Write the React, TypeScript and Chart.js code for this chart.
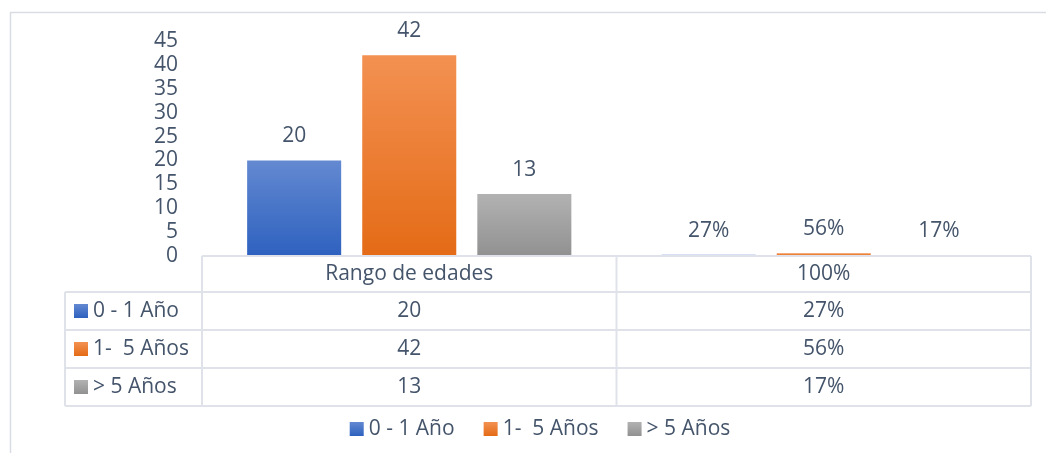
import React, { useEffect, useRef } from "react";
import { Chart, registerables } from "chart.js";

Chart.register(...registerables);

const categories = ["Rango de edades", "100%"];
const seriesNames = ["0 - 1 Año", "1-  5 Años", "> 5 Años"];
const seriesValues = [
  [20, 0.27],
  [42, 0.56],
  [13, 0.17],
];
const tableText = [
  ["20", "27%"],
  ["42", "56%"],
  ["13", "17%"],
];
const gradientStops = [
  ["#6389d1", "#2e61bf"],
  ["#f39152", "#e46b16"],
  ["#b2b2b2", "#919191"],
];
const yTicksMax = 45;
const yTickStep = 5;

const FONT = "'Open Sans'";
const FONT_SIZE = 21;
const TEXT = "#44546a";
const LINE = "#dfe3e9";

function fmtLabel(ci: number, v: number) {
  return ci === 0 ? String(v) : Math.round(v * 100) + "%";
}

function keyGradient(ctx: CanvasRenderingContext2D, i: number, y0: number, y1: number) {
  const g = ctx.createLinearGradient(0, y0, 0, y1);
  g.addColorStop(0, gradientStops[i][0]);
  g.addColorStop(1, gradientStops[i][1]);
  return g;
}

const overlayPlugin = {
  id: "excelOverlay",
  afterDatasetsDraw(chart: any) {
    const ctx: CanvasRenderingContext2D = chart.ctx;
    ctx.save();
    ctx.font = `${FONT_SIZE}px ${FONT}`;
    ctx.fillStyle = TEXT;
    ctx.textAlign = "center";
    ctx.textBaseline = "middle";
    chart.data.datasets.forEach((ds: any, di: number) => {
      const meta = chart.getDatasetMeta(di);
      meta.data.forEach((el: any, ci: number) => {
        ctx.fillText(fmtLabel(ci, ds.data[ci]), el.x, el.y - 24);
      });
    });
    ctx.restore();
  },
  afterDraw(chart: any) {
    const ctx: CanvasRenderingContext2D = chart.ctx;
    const area = chart.chartArea;
    const xs = chart.scales.x;
    const left = area.left;
    const right = area.right;
    const top = area.bottom;
    const headerH = 36;
    const rowH = 38;
    const keyColLeft = 65;
    const bottom = top + headerH + rowH * 3;

    ctx.save();
    ctx.strokeStyle = "#d9dde3";
    ctx.lineWidth = 1.5;
    ctx.strokeRect(10.5, 12.5, 1100, 500);

    ctx.strokeStyle = LINE;
    ctx.lineWidth = 2;
    ctx.beginPath();
    ctx.moveTo(left, top);
    ctx.lineTo(right, top);
    for (let r = 0; r <= 3; r++) {
      const y = top + headerH + rowH * r;
      ctx.moveTo(keyColLeft, y);
      ctx.lineTo(right, y);
    }
    const catW = (right - left) / categories.length;
    for (let c = 0; c <= categories.length; c++) {
      const x = left + catW * c;
      ctx.moveTo(x, top);
      ctx.lineTo(x, bottom);
    }
    ctx.moveTo(keyColLeft, top + headerH);
    ctx.lineTo(keyColLeft, bottom);
    ctx.stroke();

    ctx.font = `${FONT_SIZE}px ${FONT}`;
    ctx.fillStyle = TEXT;
    ctx.textBaseline = "middle";
    ctx.textAlign = "center";
    categories.forEach((c, ci) => {
      const cx = xs.getPixelForValue(ci);
      ctx.fillText(c, cx, top + headerH / 2);
    });
    seriesNames.forEach((name, si) => {
      const cy = top + headerH + rowH * si + rowH / 2;
      categories.forEach((_, ci) => {
        const cx = xs.getPixelForValue(ci);
        ctx.textAlign = "center";
        ctx.fillStyle = TEXT;
        ctx.fillText(tableText[si][ci], cx, cy);
      });
      ctx.fillStyle = keyGradient(ctx, si, cy - 7, cy + 7);
      ctx.fillRect(74, cy - 7, 14, 14);
      ctx.fillStyle = TEXT;
      ctx.textAlign = "left";
      ctx.fillText(name, 93, cy);
    });

    // legend
    const ly = 429;
    const sq = 14;
    const gapKey = 5;
    const gapItem = 29;
    const widths = seriesNames.map((n) => sq + gapKey + ctx.measureText(n).width);
    const total = widths.reduce((a, b) => a + b, 0) + gapItem * (seriesNames.length - 1);
    let x = 540 - total / 2;
    seriesNames.forEach((n, si) => {
      ctx.fillStyle = keyGradient(ctx, si, ly - sq / 2, ly + sq / 2);
      ctx.fillRect(x, ly - sq / 2, sq, sq);
      ctx.fillStyle = TEXT;
      ctx.textAlign = "left";
      ctx.fillText(n, x + sq + gapKey, ly);
      x += widths[si] + gapItem;
    });
    ctx.restore();
  },
};

export default function App() {
  const ref = useRef<HTMLCanvasElement | null>(null);
  useEffect(() => {
    if (!ref.current) return;
    const chart = new Chart(ref.current, {
      type: "bar",
      data: {
        labels: categories,
        datasets: seriesNames.map((name, si) => ({
          label: name,
          data: seriesValues[si],
          categoryPercentage: 0.833,
          barPercentage: 0.817,
          backgroundColor: (c: any) => {
            const ch = c.chart;
            if (!ch.chartArea || c.type !== "data") return gradientStops[si][1];
            const ys = ch.scales.y;
            const v = c.raw as number;
            const yTop = ys.getPixelForValue(v);
            const yBase = ys.getPixelForValue(0);
            return keyGradient(ch.ctx, si, yTop, yBase + 0.01);
          },
          borderWidth: 0,
        })),
      },
      options: {
        responsive: false,
        animation: false,
        layout: { padding: { top: 41, bottom: 197, left: 0, right: 15 } },
        plugins: { legend: { display: false }, tooltip: { enabled: false } },
        scales: {
          x: { display: false },
          y: {
            min: 0,
            max: yTicksMax,
            ticks: {
              stepSize: yTickStep,
              autoSkip: false,
              color: TEXT,
              font: { family: FONT, size: FONT_SIZE },
              padding: 16,
            },
            grid: { display: false },
            border: { display: false },
            afterFit: (scale: any) => {
              scale.width = 202;
            },
          },
        },
      },
      plugins: [overlayPlugin],
    });
    return () => chart.destroy();
  }, []);
  return (
    <div style={{ position: "absolute", left: 0, top: 0, width: 1046, height: 453, background: "#fff" }}>
      <canvas ref={ref} width={1046} height={453} />
    </div>
  );
}
